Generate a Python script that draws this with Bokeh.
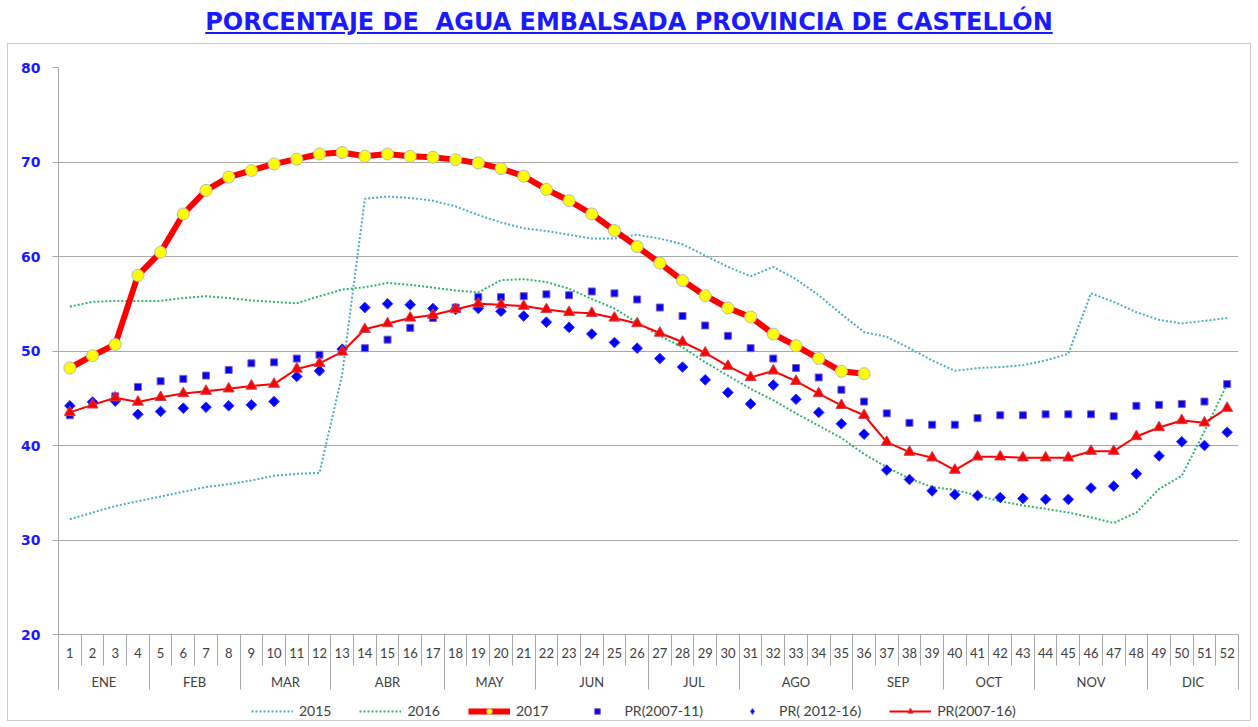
import math
from bokeh.plotting import figure
from bokeh.models import Range1d, LinearAxis, FixedTicker, Legend, LegendItem, Div
from bokeh.layouts import column
from bokeh.embed import file_html
from bokeh.resources import INLINE

# ---------------- data ----------------
weeks = list(range(1, 53))
months = ["ENE", "FEB", "MAR", "ABR", "MAY", "JUN", "JUL", "AGO", "SEP", "OCT", "NOV", "DIC"]
weeks_per_month = [4, 4, 4, 5, 4, 5, 4, 5, 4, 4, 5, 4]
y_ticks = [20, 30, 40, 50, 60, 70, 80]

s2015 = [32.2, 32.9, 33.6, 34.1, 34.6, 35.1, 35.6, 35.9, 36.3, 36.8, 37.0, 37.1,
         47.5, 66.1, 66.35, 66.2, 65.9, 65.3, 64.4, 63.6, 63.0, 62.7, 62.3, 61.9,
         61.9, 62.3, 61.9, 61.3, 60.1, 58.9, 57.9, 58.9, 57.6, 55.9, 53.9, 52.0,
         51.5, 50.3, 49.0, 47.9, 48.2, 48.3, 48.5, 49.0, 49.7, 56.1, 55.2, 54.1,
         53.3, 52.9, 53.2, 53.5]
s2016 = [54.7, 55.2, 55.3, 55.3, 55.3, 55.6, 55.8, 55.6, 55.35, 55.2, 55.05, 55.8,
         56.5, 56.75, 57.2, 57.0, 56.7, 56.4, 56.2, 57.5, 57.6, 57.3, 56.6, 55.5,
         54.5, 53.0, 51.6, 50.4, 48.8, 47.4, 46.0, 44.8, 43.4, 42.1, 40.8, 39.1,
         37.7, 36.5, 35.6, 35.3, 34.7, 34.1, 33.65, 33.3, 32.9, 32.4, 31.8, 32.9,
         35.4, 36.8, 41.5, 46.5]
s2017 = [48.2, 49.5, 50.7, 58.0, 60.45, 64.5, 67.0, 68.4, 69.1, 69.8, 70.3, 70.85,
         71.0, 70.6, 70.85, 70.6, 70.5, 70.25, 69.9, 69.3, 68.5, 67.1, 65.9, 64.5,
         62.75, 61.05, 59.3, 57.45, 55.85, 54.55, 53.6, 51.8, 50.55, 49.2, 47.85, 47.6]
pr_2007_11 = [43.2, 44.4, 45.2, 46.2, 46.8, 47.05, 47.4, 48.0, 48.7, 48.8, 49.2, 49.6,
              50.0, 50.3, 51.2, 52.45, 53.5, 54.6, 55.7, 55.7, 55.8, 56.0, 55.9, 56.3,
              56.1, 55.45, 54.6, 53.7, 52.7, 51.6, 50.3, 49.2, 48.2, 47.2, 45.9, 44.65,
              43.4, 42.4, 42.2, 42.2, 42.9, 43.2, 43.2, 43.3, 43.3, 43.3, 43.1, 44.2,
              44.3, 44.4, 44.65, 46.5]
pr_2012_16 = [44.2, 44.6, 44.7, 43.3, 43.6, 43.95, 44.05, 44.2, 44.3, 44.65, 47.3, 47.9,
              50.2, 54.6, 55.0, 54.9, 54.5, 54.4, 54.5, 54.2, 53.7, 53.05, 52.5, 51.8,
              50.9, 50.3, 49.2, 48.3, 46.95, 45.6, 44.4, 46.4, 44.9, 43.5, 42.3, 41.2,
              37.4, 36.4, 35.2, 34.8, 34.7, 34.5, 34.4, 34.3, 34.3, 35.5, 35.7, 37.0,
              38.9, 40.4, 40.0, 41.4]
pr_2007_16 = [43.5, 44.3, 45.05, 44.6, 45.1, 45.5, 45.75, 46.0, 46.3, 46.5, 48.1, 48.7,
              49.9, 52.3, 52.9, 53.5, 53.8, 54.4, 55.0, 54.9, 54.75, 54.4, 54.1, 54.0,
              53.5, 52.9, 51.9, 50.95, 49.8, 48.4, 47.2, 47.9, 46.8, 45.5, 44.25, 43.2,
              40.35, 39.3, 38.7, 37.4, 38.8, 38.8, 38.7, 38.7, 38.7, 39.4, 39.4, 40.95,
              41.9, 42.65, 42.4, 43.95]

labels = ["2015", "2016", "2017", "PR(2007-11)", "PR( 2012-16)", "PR(2007-16)"]
title_text = "PORCENTAJE DE&nbsp; AGUA EMBALSADA PROVINCIA DE CASTELLÓN"

# derived axis helpers
week_bounds = [w - 0.5 for w in weeks] + [weeks[-1] + 0.5]
month_bounds = [0.5]
for n in weeks_per_month:
    month_bounds.append(month_bounds[-1] + n)
month_centers = [(a + b) / 2 for a, b in zip(month_bounds[:-1], month_bounds[1:])]
w17 = weeks[:len(s2017)]

GRID = "#a8a8a8"
C15, C16 = "#4bacc6", "#2fb46a"

p = figure(width=1242, height=652, output_backend="svg", toolbar_location=None,
           x_range=Range1d(0.5, 52.5), y_range=Range1d(20, 80),
           min_border_left=50, min_border_right=12, min_border_top=23,
           min_border_bottom=62)
p.outline_line_color = None
p.xgrid.visible = False
p.ygrid.ticker = FixedTicker(ticks=y_ticks)
p.ygrid.grid_line_color = GRID
p.ygrid.grid_line_width = 1

# y axis
ya = p.yaxis[0]
ya.ticker = FixedTicker(ticks=y_ticks)
ya.axis_line_color = GRID
ya.major_tick_line_color = GRID
ya.major_tick_out = 6
ya.major_tick_in = 0
ya.minor_tick_out = 0
ya.minor_tick_in = 0
ya.major_label_standoff = 12
ya.major_label_text_color = "#1a1aff"
ya.major_label_text_font = "DejaVu Sans"
ya.major_label_text_font_style = "bold"
ya.major_label_text_font_size = "14px"

# week axis
xa = p.xaxis[0]
xa.ticker = FixedTicker(ticks=weeks, minor_ticks=week_bounds)
xa.major_label_overrides = {w: str(w) for w in weeks}
xa.axis_line_color = GRID
xa.major_tick_out = 0
xa.major_tick_in = 0
xa.minor_tick_in = 0
xa.minor_tick_out = 31
xa.minor_tick_line_color = GRID
xa.major_label_standoff = -18
xa.major_label_text_font = "Lato"
xa.major_label_text_font_size = "13px"
xa.major_label_text_color = "#404040"

# month axis
ma = LinearAxis(ticker=FixedTicker(ticks=month_centers, minor_ticks=month_bounds),
                major_label_overrides={c: m for c, m in zip(month_centers, months)})
ma.axis_line_color = None
ma.major_tick_out = 0
ma.major_tick_in = 0
ma.minor_tick_in = 0
ma.minor_tick_out = 29
ma.minor_tick_line_color = GRID
ma.major_label_standoff = -16
ma.major_label_text_font = "Lato"
ma.major_label_text_font_size = "13px"
ma.major_label_text_color = "#404040"
p.add_layout(ma, "below")


def draw(fig, legend_proto=False):
    r = {}
    r["15"] = fig.line(weeks, s2015, line_color=C15, line_width=2, line_dash="2 2")
    r["16"] = fig.line(weeks, s2016, line_color=C16, line_width=2, line_dash="2 2")
    r["0711"] = fig.scatter(weeks, pr_2007_11, marker="square", size=7,
                            fill_color="#0000ff", line_color="#8a60b0", line_width=1)
    if legend_proto:
        r["1216"] = fig.scatter(weeks, pr_2012_16, marker="diamond", size=11,
                                fill_color="#0000ff", line_color="#3030ff", line_width=1)
    else:
        r["1216"] = fig.scatter(weeks, pr_2012_16, marker="square", size=7.5,
                                angle=math.pi / 4, fill_color="#0000ff",
                                line_color="#3030ff", line_width=1)
    r["0716l"] = fig.line(weeks, pr_2007_16, line_color="#ff0000", line_width=2)
    r["0716m"] = fig.scatter(weeks, pr_2007_16, marker="triangle", size=11,
                             fill_color="#ff0000", line_color="#d04050", line_width=1)
    r["17l"] = fig.line(w17, s2017, line_color="#ff0000", line_width=6)
    r["17m"] = fig.scatter(w17, s2017, marker="circle", size=12,
                           fill_color="#ffff00", line_color="#b8b8b8", line_width=1)
    return r


draw(p)

# legend strip: same series drawn in a small figure whose ranges keep them out of view
lf = figure(width=1242, height=24, output_backend="svg", toolbar_location=None,
            x_axis_location=None, y_axis_location=None, min_border=0,
            x_range=Range1d(-3, -2), y_range=Range1d(-3, -2))
lf.outline_line_color = None
lf.grid.visible = False
g = draw(lf, legend_proto=True)

legend = Legend(items=[
    LegendItem(label=labels[0], renderers=[g["15"]]),
    LegendItem(label=labels[1], renderers=[g["16"]]),
    LegendItem(label=labels[2], renderers=[g["17l"], g["17m"]]),
    LegendItem(label=labels[3], renderers=[g["0711"]]),
    LegendItem(label=labels[4], renderers=[g["1216"]]),
    LegendItem(label=labels[5], renderers=[g["0716l"], g["0716m"]]),
], orientation="horizontal", location=(193, 1))
legend.border_line_color = None
legend.background_fill_alpha = 0
legend.label_text_font = "Lato"
legend.label_text_font_size = "14px"
legend.label_text_color = "#404040"
legend.glyph_width = 42
legend.glyph_height = 14
legend.spacing = 28
legend.label_standoff = 6
legend.margin = 0
legend.padding = 3
lf.add_layout(legend, "center")

chart = column(p, lf, spacing=0,
               styles={"outline": "1px solid #cccccc", "outline-offset": "0px"})

title = Div(text=('<div style="width:1242px;text-align:center;'
                  'font-family:\'DejaVu Sans\',Verdana,sans-serif;'
                  'font-weight:bold;font-size:24px;color:#1a1aff;text-decoration:underline;'
                  'line-height:28px;">' + title_text + '</div>'),
            width=1242, height=36, margin=(0, 0, 0, 0))

layout = column(title, chart, spacing=0, margin=(8, 0, 0, 8))
open("out.html", "w").write(file_html(layout, INLINE))
